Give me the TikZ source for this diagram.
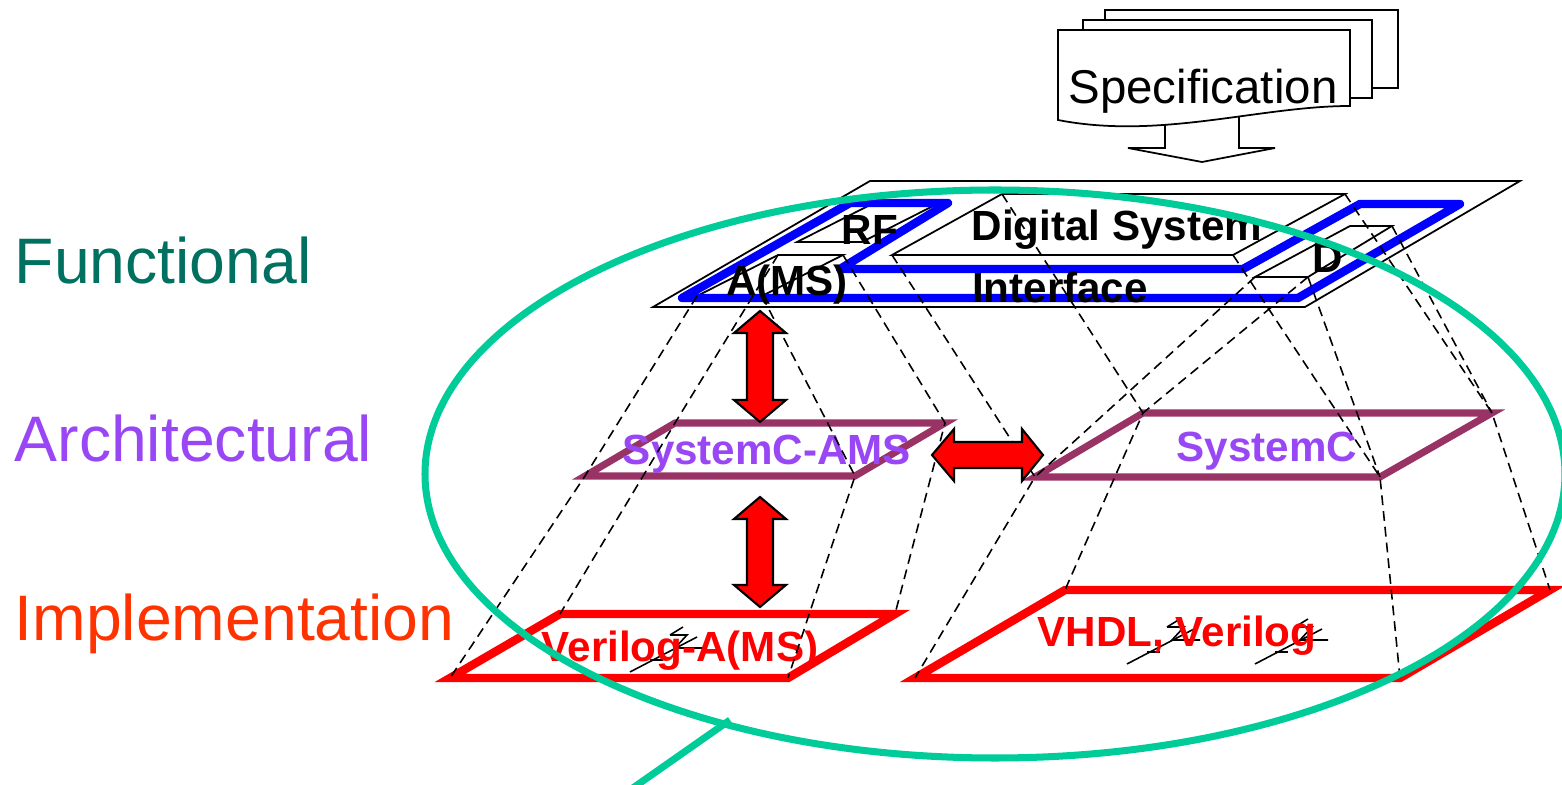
\documentclass[tikz,border=0pt]{standalone}
\usepackage{fontspec}
\setmainfont{Liberation Sans}

\definecolor{funcol}{RGB}{0,112,96}
\definecolor{archcol}{RGB}{153,70,245}
\definecolor{implcol}{RGB}{255,51,0}
\definecolor{planecol}{RGB}{153,51,102}
\definecolor{ovalcol}{RGB}{0,204,153}

\tikzset{
    sheet/.style={draw,fill=white,line width=0.5pt},
    thinbox/.style={draw,line width=0.5pt},
    proj/.style={dash pattern=on 2.8pt off 1.7pt,line width=0.45pt},
    blockarrow/.style={draw,fill=red,line width=0.6pt},
    levellabel/.style={font=\fontsize{18.3}{20}\selectfont,anchor=base west,inner sep=0pt},
    tag/.style={font=\fontsize{12}{14}\selectfont\bfseries,anchor=base,inner sep=0pt}
}

% little zigzag glyph on the implementation planes
\newcommand{\zigmark}[2]{%
    \begin{scope}[shift={(#1,#2)}]
        \draw[line width=0.45pt] (-5,-10) -- (12,-10) -- (0,3) -- (28,3);
        \draw[line width=0.45pt] (-5,-10) -- (8,-18);
        \draw[line width=0.45pt] (-25,15) -- (-12,15);
        \draw[line width=0.45pt] (-45,27) -- (22,-8);
    \end{scope}}

\begin{document}
\begin{tikzpicture}[x=0.1mm,y=-0.1mm]
    \useasboundingbox (0,0) rectangle (1562,785);

    % specification stack
    \draw[sheet] (1105,10) rectangle (1398,88);
    \draw[sheet] (1083,20) rectangle (1372,98);
    \draw[sheet] (1165,110) -- (1165,148) -- (1128,148) -- (1202,162) -- (1275,148) -- (1239,148) -- (1239,110);
    \draw[sheet] (1058,30) -- (1350,30) -- (1350,106) .. controls (1260,106) and (1160,140) .. (1058,120) -- cycle;
    \node[font=\fontsize{13.5}{16}\selectfont,anchor=base,inner sep=0pt] (spec) at (1203,104) {Specification};

    % corners
    \coordinate (ams-bl) at (697,296);
    \coordinate (ams-br) at (762,296);
    \coordinate (ams-tr) at (843,255);
    \coordinate (ams-tl) at (778,255);
    \coordinate (rf-bl) at (797,242);
    \coordinate (rf-br) at (862,242);
    \coordinate (rf-tr) at (935,205);
    \coordinate (rf-tl) at (870,205);
    \coordinate (dg-bl) at (892,255);
    \coordinate (dg-br) at (1233,255);
    \coordinate (dg-tr) at (1345,194);
    \coordinate (dg-tl) at (1002,194);
    \coordinate (d-bl) at (1255,277);
    \coordinate (d-br) at (1308,277);
    \coordinate (d-tr) at (1392,226);
    \coordinate (d-tl) at (1350,226);
    \coordinate (scams-bl) at (585,476);
    \coordinate (scams-br) at (855,476);
    \coordinate (scams-tr) at (945,423);
    \coordinate (scams-tl) at (675,423);
    \coordinate (sc-bl) at (1035,477);
    \coordinate (sc-br) at (1380,477);
    \coordinate (sc-tr) at (1492,413);
    \coordinate (sc-tl) at (1143,413);
    \coordinate (vams-bl) at (450,678);
    \coordinate (vams-br) at (788,678);
    \coordinate (vams-tr) at (895,614);
    \coordinate (vams-tl) at (560,614);
    \coordinate (vhdl-bl) at (915,678);
    \coordinate (vhdl-br) at (1400,678);
    \coordinate (vhdl-tr) at (1550,590);
    \coordinate (vhdl-tl) at (1065,590);

    % functional level
    \draw[thinbox] (653,307) -- (1305,307) -- (1520,181) -- (870,181) -- cycle;
    \foreach \b in {ams,rf,dg,d}
        \draw[thinbox] (\b-bl) -- (\b-br) -- (\b-tr) -- (\b-tl) -- cycle;
    \draw[blue,line width=2.4pt,line join=round,line cap=round]
        (682,298) -- (850,203) -- (948,203) -- (840,269) -- (1243,269)
        -- (1360,204) -- (1460,204) -- (1298,298) -- cycle;
    \node[tag] (rf) at (870,245) {RF};
    \node[tag] (ams) at (787,296) {A(MS)};
    \node[tag] (dig) at (1117,241) {Digital System};
    \node[tag] (intf) at (1060,303) {Interface};
    \node[tag] (d) at (1328,273) {D};

    % architectural and implementation levels
    \draw[planecol,line width=2pt] (scams-bl) -- (scams-br) -- (scams-tr) -- (scams-tl) -- cycle;
    \draw[planecol,line width=2pt] (sc-bl) -- (sc-br) -- (sc-tr) -- (sc-tl) -- cycle;
    \draw[red,line width=2.4pt] (vams-bl) -- (vams-br) -- (vams-tr) -- (vams-tl) -- cycle;
    \draw[red,line width=2.4pt] (vhdl-bl) -- (vhdl-br) -- (vhdl-tr) -- (vhdl-tl) -- cycle;
    \zigmark{675}{645}
    \zigmark{1172}{637}
    \zigmark{1300}{637}
    \node[tag,text=archcol] (scams) at (767,465) {SystemC-AMS};
    \node[tag,text=archcol] (sc) at (1267,462) {SystemC};
    \node[tag,text=red] (vams) at (680,662) {Verilog-A(MS)};
    \node[tag,text=red] (vhdl) at (1177,647) {VHDL, Verilog};

    % projections between the levels
    \foreach \a/\b/\c in {ams-bl/scams-bl/vams-bl, ams-tl/scams-tl/vams-tl,
            ams-br/scams-br/vams-br, ams-tr/scams-tr/vams-tr,
            dg-bl/sc-bl/vhdl-bl, dg-tl/sc-tl/vhdl-tl,
            dg-br/sc-br/vhdl-br, dg-tr/sc-tr/vhdl-tr}
        \draw[proj] (\a) -- (\b) -- (\c);
    \foreach \a/\b in {d-bl/sc-bl, d-br/sc-tl, d-br/sc-br, d-tr/sc-tr}
        \draw[proj] (\a) -- (\b);

    % refinement arrows
    \foreach \t/\b in {311/422, 497/607}
        \draw[blockarrow] (760,\t) -- (786,\t+22) -- (773,\t+22) -- (773,\b-22) -- (786,\b-22)
            -- (760,\b) -- (734,\b-22) -- (747,\b-22) -- (747,\t+22) -- (734,\t+22) -- cycle;
    \draw[blockarrow] (932,455) -- (954,429) -- (954,442) -- (1022,442) -- (1022,429)
        -- (1043,455) -- (1022,481) -- (1022,468) -- (954,468) -- (954,481) -- cycle;

    % level names
    \node[levellabel,text=funcol] (fun) at (14,284) {Functional};
    \node[levellabel,text=archcol] (arch) at (14,462) {Architectural};
    \node[levellabel,text=implcol] (impl) at (14,641) {Implementation};

    % callout
    \draw[ovalcol,line width=2pt] (995,474) ellipse [x radius=57mm,y radius=28.4mm];
    \draw[ovalcol,line width=2pt] (730,720) -- (630,790);
\end{tikzpicture}
\end{document}
